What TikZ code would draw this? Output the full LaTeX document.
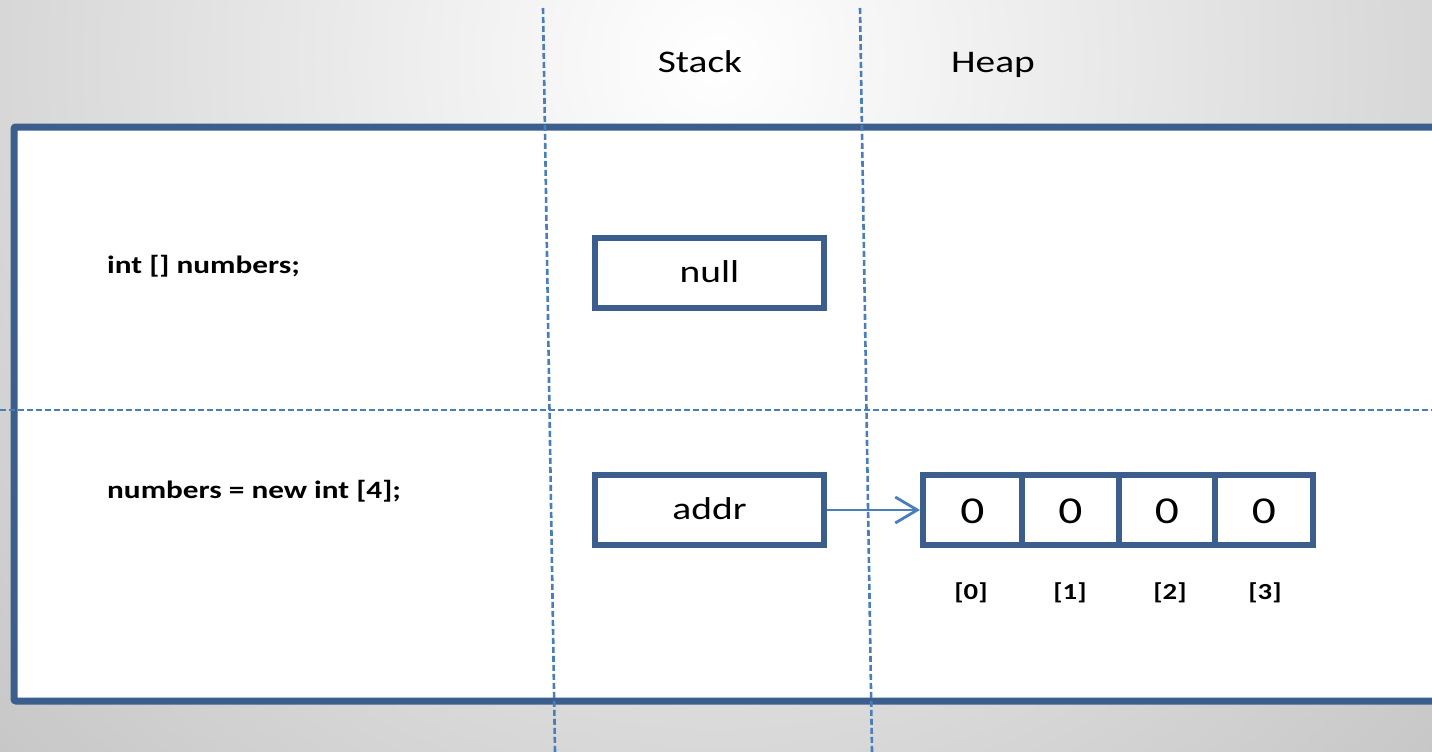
\documentclass[tikz,border=0pt]{standalone}
\usepackage{fontspec}
\setmainfont{Carlito}
\newfontfamily\widefont[FakeStretch=1.25]{Carlito}
\usetikzlibrary{arrows.meta}
\definecolor{boxblue}{HTML}{3B5E8C}
\definecolor{lineblue}{HTML}{4A7EBB}
\begin{document}
\begin{tikzpicture}[x=1pt,y=-1pt,
  cell/.style={draw=boxblue,line width=6pt,minimum height=70pt,inner sep=0pt,text height=19pt,text depth=0pt,font=\widefont\fontsize{31.6}{36}\selectfont},
  zero/.style={cell,text height=26pt,font=\widefont\fontsize{38}{42}\selectfont},
  code/.style={anchor=base west,inner sep=0pt,font=\widefont\bfseries\fontsize{25}{30}\selectfont},
  head/.style={anchor=base,inner sep=0pt,font=\widefont\fontsize{31.5}{36}\selectfont},
  idx/.style={anchor=base,inner sep=0pt,font=\widefont\bfseries\fontsize{23}{27}\selectfont},
  sep/.style={draw=lineblue,line width=2.6pt,dash pattern=on 6pt off 3pt}]
\useasboundingbox (0,0) rectangle (1432,752);
\begin{scope}
\clip (0,0) rectangle (1432,752);
\shade[inner color=white,outer color=black!22] (716,60) circle (1000);
\fill[white] (14,127) rectangle (1445,701);
\draw[boxblue,line width=7pt,rounded corners=2pt] (1445,127) -- (14,127) -- (14,701) -- (1445,701);
\end{scope}
% separators
\coordinate (v1t) at (543,8); \coordinate (v1b) at (555,752);
\coordinate (v2t) at (860,8); \coordinate (v2b) at (872,752);
\coordinate (hl) at (0,410); \coordinate (hr) at (1432,410);
\draw[sep] (v1t) -- (v1b);
\draw[sep] (v2t) -- (v2b);
\draw[sep] (hl) -- (hr);
% headers
\node[head] (stack) at (700,73) {Stack};
\node[head] (heap) at (993,73) {Heap};
% code
\node[code] (decl) at (107,273) {int [] numbers;};
\node[code] (alloc) at (107,498) {numbers = new int [4];};
% stack boxes
\node[cell,minimum width=229pt] (null) at (709.5,273) {null};
\node[cell,minimum width=229pt] (addr) at (709.5,510) {addr};
% heap array
\node[zero,minimum width=99pt] (c0) at (972.5,510) {0};
\node[zero,minimum width=97pt] (c1) at (1070.5,510) {0};
\node[zero,minimum width=96pt] (c2) at (1167,510) {0};
\node[zero,minimum width=98pt] (c3) at (1264,510) {0};
\node[idx] (i0) at (971,599) {[0]};
\node[idx] (i1) at (1070,599) {[1]};
\node[idx] (i2) at (1170,599) {[2]};
\node[idx] (i3) at (1265,599) {[3]};
\draw[lineblue,line width=2.8pt,-{Straight Barb[length=22pt,width=26pt]}] (addr.east) -- (c0.west);
\end{tikzpicture}
\end{document}
